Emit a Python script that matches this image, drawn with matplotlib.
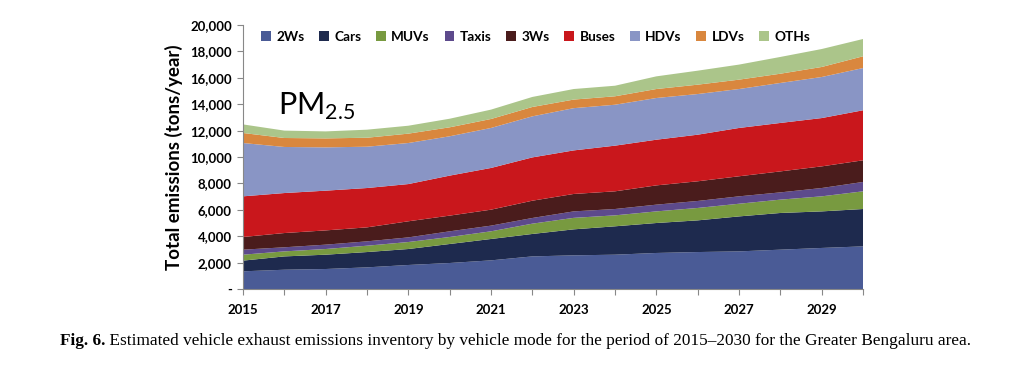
import matplotlib
matplotlib.use("Agg")
import matplotlib.pyplot as plt
from matplotlib.ticker import FuncFormatter, MultipleLocator
import numpy as np

years = np.arange(2015, 2031)

# emissions by vehicle mode, tons/year
twos = [1340, 1460, 1515, 1640, 1820, 1970, 2170, 2470, 2550, 2600, 2730, 2800, 2850, 2980, 3110, 3230]
cars = [810, 1010, 1085, 1160, 1210, 1440, 1620, 1700, 1970, 2150, 2270, 2400, 2650, 2780, 2770, 2830]
muvs = [450, 380, 430, 480, 530, 530, 580, 780, 870, 830, 880, 940, 960, 1010, 1140, 1340]
taxis = [380, 310, 330, 330, 350, 430, 430, 430, 490, 480, 510, 530, 560, 550, 630, 710]
threes = [960, 1080, 1080, 1060, 1220, 1190, 1210, 1310, 1320, 1340, 1460, 1490, 1520, 1590, 1640, 1640]
buses = [3080, 3030, 3010, 2980, 2820, 3030, 3160, 3280, 3300, 3460, 3460, 3530, 3660, 3670, 3660, 3790]
hdvs = [4040, 3490, 3280, 3130, 3110, 2980, 3030, 3110, 3200, 3100, 3160, 3080, 2950, 3030, 3110, 3200]
ldvs = [760, 680, 680, 680, 710, 680, 680, 710, 650, 640, 680, 710, 710, 700, 760, 890]
oths = [650, 560, 530, 610, 600, 650, 710, 760, 800, 800, 960, 1060, 1140, 1270, 1360, 1310]

labels = ["2Ws", "Cars", "MUVs", "Taxis", "3Ws", "Buses", "HDVs", "LDVs", "OTHs"]
colors = ["#4a5b96", "#1e2a4e", "#789a40", "#5d4a8c", "#4a1c1c",
          "#c9171c", "#8995c5", "#d9873e", "#abc58a"]

plt.rcParams['font.family'] = ['Lato', 'DejaVu Sans']

fig = plt.figure(figsize=(10.24, 3.65), dpi=100)
ax = fig.add_axes([0.2373, 0.2082, 0.6055, 0.7233])

ax.stackplot(years, twos, cars, muvs, taxis, threes, buses, hdvs, ldvs, oths,
             labels=labels, colors=colors, linewidth=0)

ax.set_xlim(2015, 2030)
ax.set_ylim(0, 20000)
ax.yaxis.set_major_locator(MultipleLocator(2000))
ax.yaxis.set_major_formatter(FuncFormatter(lambda v, p: "-" if v == 0 else f"{int(v):,}"))
ax.set_xticks(np.arange(2015, 2031))
ax.set_xticklabels([str(y) if (y - 2015) % 2 == 0 else "" for y in range(2015, 2031)])

for s in ["top", "right"]:
    ax.spines[s].set_visible(False)
for s in ["left", "bottom"]:
    ax.spines[s].set_color("#888888")
    ax.spines[s].set_linewidth(0.8)
ax.tick_params(axis="x", direction="out", length=4, color="#888888", pad=7)
ax.tick_params(axis="y", direction="out", length=4, color="#888888", pad=4)
for lab in ax.get_xticklabels() + ax.get_yticklabels():
    lab.set_fontweight("bold")
    lab.set_fontsize(9.5)

ax.set_ylabel("Total emissions (tons/year)", fontsize=13.5, fontweight="bold", labelpad=5)

ax.text(2015.85, 13200, "PM$_{\\mathregular{2.5}}$", fontsize=22, va="baseline", ha="left")

leg = ax.legend(loc="upper center", bbox_to_anchor=(0.472, 1.025), ncol=9, frameon=False,
                handlelength=0.7, handleheight=0.7, handletextpad=0.4, columnspacing=1.1,
                prop={"weight": "bold", "size": 9.8})

cap1 = fig.text(60 / 1024, 1 - 345 / 365, "Fig. 6.", fontsize=12.45, fontweight="bold",
                family="Liberation Serif", va="baseline")
ax.annotate(" Estimated vehicle exhaust emissions inventory by vehicle mode for the period "
            "of 2015\u20132030 for the Greater Bengaluru area.",
            xy=(1, 0), xycoords=cap1, va="bottom", fontsize=12.45, family="Liberation Serif",
            annotation_clip=False)

fig.savefig("out.png", dpi=100)
